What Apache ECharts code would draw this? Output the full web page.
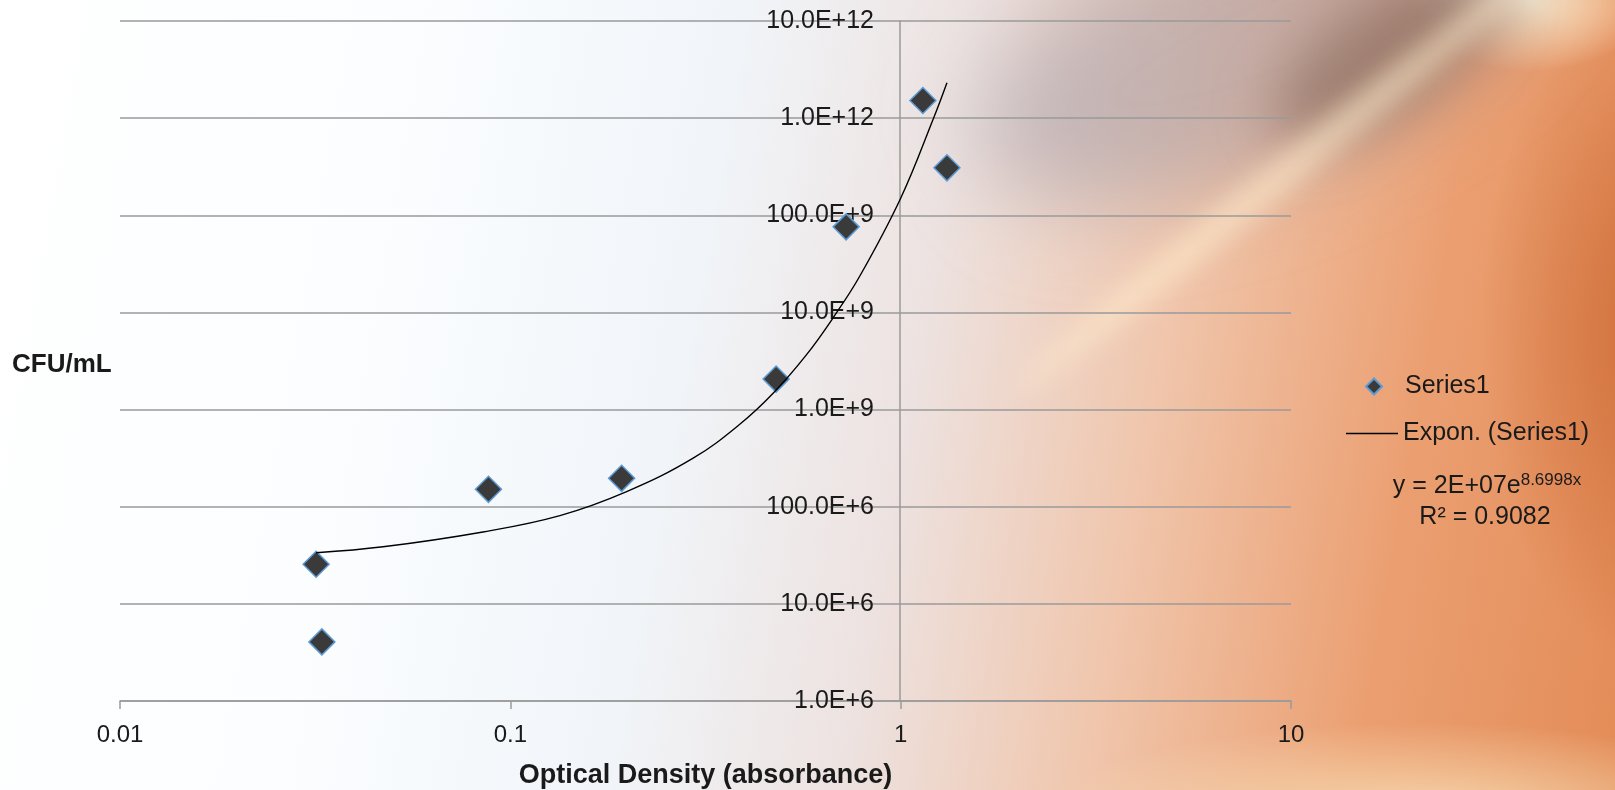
<!DOCTYPE html>
<html>
<head>
<meta charset="utf-8">
<script src="https://cdn.jsdelivr.net/npm/echarts@6/dist/echarts.min.js"></script>
<style>
    html, body { margin: 0; padding: 0; }
    #wrap {
        position: relative;
        width: 1615px;
        height: 790px;
        overflow: hidden;
        background:
            radial-gradient(ellipse 150px 90px at 1530px 0px, rgba(255,243,212,0.95), rgba(255,243,212,0) 80%),
            radial-gradient(ellipse 230px 430px at 1660px 330px, rgba(205,108,55,0.95), rgba(205,108,55,0) 78%),
            radial-gradient(ellipse 520px 130px at 1420px 820px, rgba(250,230,190,0.85), rgba(250,230,190,0) 75%),
            linear-gradient(100deg, #ffffff 0%, #fbfdff 24%, #f1f5f9 42%, #ede2e0 56%, #f0c5ab 70%, #eb9f71 85%, #e38c58 100%);
    }
    .blob { position: absolute; border-radius: 50%; }
    #gray { left: 960px; top: -90px; width: 600px; height: 260px; background: rgba(155,152,165,0.5); filter: blur(45px); transform: rotate(-22deg); }
    #brown { left: 1255px; top: 5px; width: 260px; height: 105px; background: rgba(130,100,85,0.6); filter: blur(28px); transform: rotate(-35deg); }
    #streak { left: 945px; top: 165px; width: 660px; height: 32px; background: rgba(255,236,205,0.6); filter: blur(12px); transform: rotate(-39deg); }
    #chart { position: absolute; left: 0; top: 0; width: 1615px; height: 790px; }
</style>
</head>
<body>
<div id="wrap">
    <div class="blob" id="gray"></div>
    <div class="blob" id="brown"></div>
    <div class="blob" id="streak"></div>
    <div id="chart"></div>
</div>
<script>
    // scatter points (OD, CFU/mL)
    const odValues = [0.0318, 0.0329, 0.0879, 0.1928, 0.4796, 0.7248, 1.14, 1.314];
    const cfuValues = [2.56e7, 4.06e6, 1.51e8, 1.96e8, 2.06e9, 7.6e10, 1.52e12, 3.08e11];

    // exponential trendline
    const trendOd = [0.0318, 0.0472, 0.0851, 0.134, 0.1986, 0.294, 0.3878, 0.4719, 0.5747, 0.6725, 0.7873, 1.0, 1.214, 1.314];
    const trendCfu = [3.36e7, 3.87e7, 5.5e7, 8.1e7, 1.43e8, 3.16e8, 7.1e8, 1.48e9, 3.7e9, 8.9e9, 2.4e10, 1.5e11, 1.0e12, 2.32e12];

    const xTickLabels = ['0.01', '0.1', '1', '10'];
    const yTickLabels = ['1.0E+6', '10.0E+6', '100.0E+6', '1.0E+9', '10.0E+9', '100.0E+9', '1.0E+12', '10.0E+12'];

    const FONT = "'Liberation Sans', Arial, sans-serif";
    const GRAY = '#9a9a9a';

    const chart = echarts.init(document.getElementById('chart'));

    const legendText = { fontSize: 25, color: '#1a1a1a', fontFamily: FONT };

    const option = {
        backgroundColor: 'transparent',
        animation: false,
        textStyle: { fontFamily: FONT, color: '#1a1a1a' },
        grid: {
            left: 120,
            right: 324,
            top: 21,
            bottom: 89,
            containLabel: false,
            outerBoundsMode: 'none'
        },
        legend: [
            {
                orient: 'vertical',
                left: 1365,
                top: 374,
                padding: 0,
                itemWidth: 16,
                itemHeight: 16,
                icon: 'diamond',
                textStyle: Object.assign({ padding: [0, 0, 0, 18] }, legendText),
                data: ['Series1']
            },
            {
                orient: 'vertical',
                left: 1346,
                top: 421,
                padding: 0,
                itemWidth: 52,
                itemHeight: 1.5,
                icon: 'rect',
                itemStyle: { color: '#000000' },
                textStyle: legendText,
                data: ['Expon. (Series1)']
            }
        ],
        xAxis: {
            type: 'log',
            logBase: 10,
            min: 0.01,
            max: 10,
            interval: 1,
            name: 'Optical Density (absorbance)',
            nameLocation: 'middle',
            nameGap: 61,
            nameTextStyle: { fontSize: 27, fontWeight: 'bold', color: '#1a1a1a' },
            axisLine: { lineStyle: { color: GRAY, width: 1.5 } },
            axisTick: { show: true, length: 8, lineStyle: { color: GRAY, width: 1.5 } },
            axisLabel: {
                fontSize: 24,
                color: '#1a1a1a',
                margin: 22,
                formatter: (v) => xTickLabels[Math.round(Math.log10(v)) + 2]
            },
            splitLine: { show: false }
        },
        yAxis: {
            type: 'log',
            logBase: 10,
            min: 1e6,
            max: 1e13,
            interval: 1,
            offset: -780,
            axisLine: { show: true, lineStyle: { color: GRAY, width: 1.5 } },
            axisTick: { show: false },
            axisLabel: {
                fontSize: 25,
                color: '#1a1a1a',
                margin: 26,
                formatter: (v) => yTickLabels[Math.round(Math.log10(v)) - 6]
            },
            splitLine: { show: true, lineStyle: { color: GRAY, width: 1.5 } }
        },
        graphic: [
            {
                type: 'text',
                left: 12,
                top: 352,
                style: { text: 'CFU/mL', font: "bold 26px " + FONT, fill: '#1a1a1a' }
            },
            {
                type: 'text',
                x: 1487,
                y: 472,
                style: {
                    text: '{a|y = 2E+07e}{b|8.6998x}',
                    align: 'center',
                    rich: {
                        a: { fontSize: 25, fontFamily: FONT, fill: '#1a1a1a', lineHeight: 28 },
                        b: { fontSize: 17, fontFamily: FONT, fill: '#1a1a1a', lineHeight: 18, verticalAlign: 'top' }
                    }
                }
            },
            {
                type: 'text',
                x: 1485,
                y: 505,
                style: { text: 'R² = 0.9082', font: "25px " + FONT, fill: '#1a1a1a', align: 'center' }
            }
        ],
        series: [
            {
                name: 'Series1',
                type: 'scatter',
                symbol: 'diamond',
                symbolSize: 26,
                itemStyle: { color: '#3a3a3a', borderColor: '#5b9bd5', borderWidth: 1.5, opacity: 1 },
                data: odValues.map((x, i) => [x, cfuValues[i]]),
                z: 2
            },
            {
                name: 'Expon. (Series1)',
                type: 'line',
                symbol: 'none',
                smooth: 0.4,
                lineStyle: { color: '#000000', width: 1.4 },
                itemStyle: { color: '#000000' },
                data: trendOd.map((x, i) => [x, trendCfu[i]]),
                z: 3
            }
        ]
    };

    chart.setOption(option);
</script>
</body>
</html>
